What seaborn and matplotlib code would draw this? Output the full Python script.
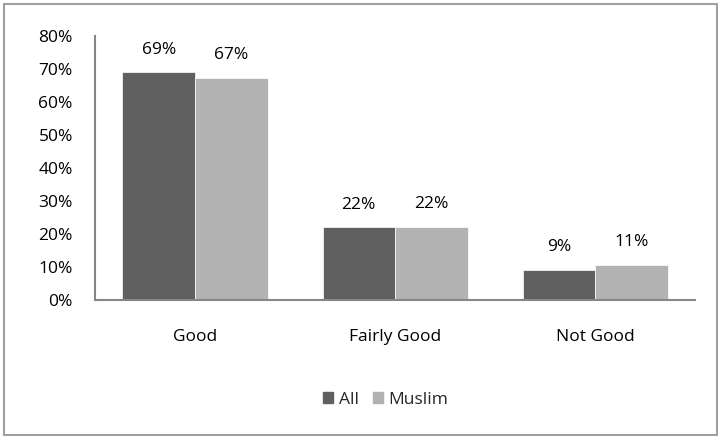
import pandas as pd
import matplotlib.pyplot as plt
import seaborn as sns
from matplotlib.patches import Rectangle

# data
categories = ["Good", "Fairly Good", "Not Good"]
all_vals = [69.0, 22.0, 9.2]
muslim_vals = [67.3, 22.2, 10.6]
all_labels = ["69%", "22%", "9%"]
muslim_labels = ["67%", "22%", "11%"]
series = ["All", "Muslim"]
colors = ["#606060", "#b2b2b2"]

df = pd.DataFrame({
    "category": categories * 2,
    "group": [series[0]] * 3 + [series[1]] * 3,
    "value": all_vals + muslim_vals,
})

sns.set_style("white")
plt.rcParams["font.family"] = ["Open Sans", "DejaVu Sans"]
fs = 12.5

fig = plt.figure(figsize=(7.18, 4.36), dpi=100)
ax = fig.add_axes([0.1323, 0.312, 0.8357, 0.605])

sns.barplot(data=df, x="category", y="value", hue="group", order=categories,
            hue_order=series, palette=colors, width=0.725, gap=0,
            saturation=1, linewidth=0.5, edgecolor="white",
            ax=ax, legend=False)

for cont, labs in zip(ax.containers, [all_labels, muslim_labels]):
    ax.bar_label(cont, labels=labs, padding=10.5, fontsize=fs, color="black")

ax.set_xlim(-0.5, 2.5)
ax.set_ylim(0, 80)
ax.set_yticks(range(0, 81, 10))
ax.set_yticklabels([f"{v}%" for v in range(0, 81, 10)])
ax.set_xlabel("")
ax.set_ylabel("")
ax.tick_params(axis="y", length=0, pad=16, labelsize=fs, labelcolor="black")
ax.tick_params(axis="x", length=0, pad=21, labelsize=fs, labelcolor="black")

for side in ["top", "right"]:
    ax.spines[side].set_visible(False)
for side in ["left", "bottom"]:
    ax.spines[side].set_color("#868686")
    ax.spines[side].set_linewidth(1.5)

handles = [Rectangle((0, 0), 1, 1, color=c) for c in colors]
fig.legend(handles, series, loc="center", bbox_to_anchor=(0.537, 0.083),
           ncol=2, frameon=False, fontsize=fs, handlelength=0.6,
           handleheight=0.6, handletextpad=0.3, columnspacing=0.8)

# chart border like the Excel frame
fig.patches.append(Rectangle((4 / 718, 1 / 436), 713 / 718, 431 / 436,
                             transform=fig.transFigure, fill=False,
                             edgecolor="#a0a0a0", linewidth=1.5))

fig.savefig("out.png", dpi=100)
